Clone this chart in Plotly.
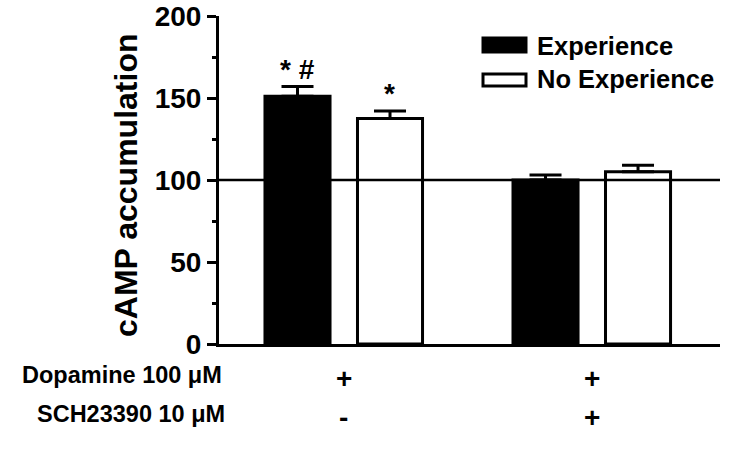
import plotly.graph_objects as go

# values
groups = ["Dopamine", "Dopamine + SCH23390"]
series = ["Experience", "No Experience"]
experience = [151, 100]
experience_err = [6, 3]
no_experience = [137.5, 105]
no_experience_err = [4.5, 4]
dopamine_row = ["+", "+"]
sch_row = ["-", "+"]
stars = [["* #", ""], ["*", ""]]

FONT = "Arial, Liberation Sans, sans-serif"
W, H = 734, 451
L, R, T, B = 219, 14, 16, 107
pw, ph = W - L - R, H - T - B

def px_x(px):
    return (px - L) / pw

def px_y(py):
    return (H - B - py) / ph

fig = go.Figure()
colors = ["black", "white"]
for name, vals, errs, col in zip(series, [experience, no_experience],
                                 [experience_err, no_experience_err], colors):
    fig.add_trace(go.Bar(
        x=groups, y=vals, name=name,
        marker=dict(color=col, line=dict(color="black", width=3)),
        error_y=dict(type="data", array=errs, arrayminus=[0] * len(errs),
                     color="black", thickness=3, width=16),
        showlegend=False,
    ))

# significance marks
for k, (vals, errs) in enumerate([(experience, experience_err), (no_experience, no_experience_err)]):
    for i, g in enumerate(groups):
        if stars[k][i]:
            fig.add_annotation(x=g, y=vals[i] + errs[i], text="<b>" + stars[k][i] + "</b>",
                               xshift=(-46 if k == 0 else 46), yshift=0,
                               yanchor="bottom", showarrow=False,
                               font=dict(family=FONT, size=28, color="black"))

# condition rows under the axis
for label, row, py, xr in [("Dopamine 100 \u03bcM", dopamine_row, 375, 224),
                           ("SCH23390 10 \u03bcM", sch_row, 414, 227)]:
    fig.add_annotation(x=px_x(xr), xref="paper", y=px_y(py), yref="paper",
                       text="<b>" + label + "</b>", xanchor="right", yanchor="middle",
                       showarrow=False, font=dict(family=FONT, size=23.5, color="black"))
    for g, s in zip(groups, row):
        fig.add_annotation(x=g, y=px_y(py + 3), yref="paper", text="<b>" + s + "</b>",
                           xanchor="center", yanchor="middle", showarrow=False,
                           font=dict(family=FONT, size=28, color="black"))

# y title as rotated annotation (sits a little below centre in the original)
fig.add_annotation(x=px_x(126), xref="paper", y=px_y(186), yref="paper",
                   xanchor="center", yanchor="middle",
                   text="<b>cAMP accumulation</b>", textangle=-90, showarrow=False,
                   font=dict(family=FONT, size=32, color="black"))

# baseline at 100
fig.add_shape(type="line", xref="paper", x0=0, x1=1, y0=100, y1=100,
              line=dict(color="black", width=2.5), layer="above")

# legend drawn by hand (wide swatches)
for name, col, y0, y1, yc in [(series[0], "black", 38, 52, 46), (series[1], "white", 74, 86, 79)]:
    fig.add_shape(type="rect", xref="paper", yref="paper",
                  x0=px_x(483), x1=px_x(526), y0=px_y(y1), y1=px_y(y0),
                  fillcolor=col, line=dict(color="black", width=3))
    fig.add_annotation(x=px_x(535), xref="paper", y=px_y(yc), yref="paper",
                       text="<b>" + name + "</b>", xanchor="left", yanchor="middle",
                       showarrow=False, font=dict(family=FONT, size=25.5, color="black"))

fig.update_layout(
    width=W, height=H,
    margin=dict(l=L, r=R, t=T, b=B),
    plot_bgcolor="white", paper_bgcolor="white",
    barmode="group", bargap=0.254, bargroupgap=0.297,
    font=dict(family=FONT, color="black"),
)
fig.update_xaxes(range=[-0.503, 1.517], showline=True, linewidth=3, linecolor="black",
                 showticklabels=False, ticks="", showgrid=False, zeroline=False,
                 automargin=False)
fig.update_yaxes(range=[0, 200], dtick=50, showline=True, linewidth=3, linecolor="black",
                 ticks="outside", ticklen=9, tickwidth=3, tickcolor="black",
                 minor=dict(dtick=25, ticks="outside", ticklen=4, tickwidth=3, tickcolor="black"),
                 tickfont=dict(family=FONT, size=28, color="black", weight="bold"),
                 ticklabeloverflow="allow",
                 showgrid=False, zeroline=False, automargin=False)

# drop the default 8px page margin so the figure sits at the window corner
fig.write_html("out.html", config={"displayModeBar": False},
               post_script="document.body.style.margin='0';")
